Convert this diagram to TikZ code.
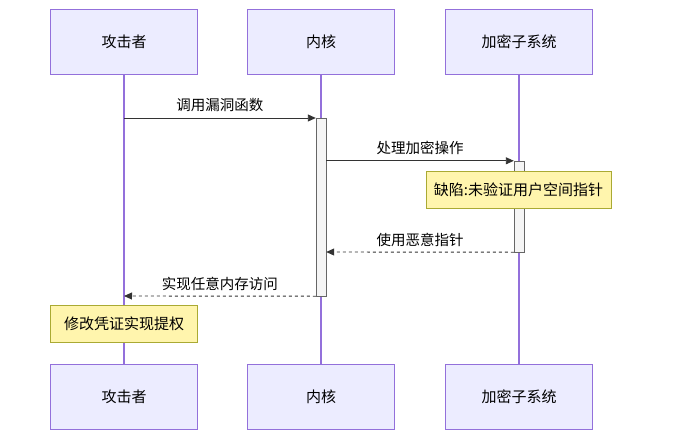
\documentclass[tikz,border=0pt]{standalone}
\usepackage{fontspec}
\setmainfont{Noto Sans CJK SC}
\usetikzlibrary{arrows.meta, positioning}
\definecolor{actorfill}{HTML}{ECECFF}
\definecolor{actorline}{HTML}{9370DB}
\definecolor{notefill}{HTML}{FFF5AD}
\definecolor{noteline}{HTML}{AAAA33}
\tikzset{
  actor/.style = {rectangle, minimum width=147pt, minimum height=65pt, fill=actorfill, draw=actorline, font=\fontsize{15}{18}\selectfont},
  note/.style = {rectangle, minimum height=37pt, inner xsep=8pt, fill=notefill, draw=noteline, font=\fontsize{15}{18}\selectfont},
  activ/.style = {rectangle, minimum width=10pt, fill=black!4, draw=black!60},
  life/.style = {draw=actorline, line width=1.2pt},
  msg/.style = {draw=black!80, line width=0.9pt, -{Triangle[length=8pt,width=7pt]}},
  reply/.style = {msg, dashed},
  lbl/.style = {font=\fontsize{14.5}{17}\selectfont}
}
\begin{document}
\begin{tikzpicture}[x=1pt, y=-1pt]
    \useasboundingbox (0,0) rectangle (675,445);

    \node (att) [actor] at (124,42) {攻击者};
    \node (ker) [actor] at (321,42) {内核};
    \node (cry) [actor] at (519,42) {加密子系统};
    \node (attb) [actor] at (124,397) {攻击者};
    \node (kerb) [actor] at (321,397) {内核};
    \node (cryb) [actor] at (519,397) {加密子系统};

    \draw [life] (att) -- (attb);
    \draw [life] (ker) -- (kerb);
    \draw [life] (cry) -- (cryb);

    \node (actk) [activ, minimum height=178pt] at (321,207) {};
    \node (actc) [activ, minimum height=91pt] at (519,206.5) {};

    \coordinate (a1) at (124,118);
    \coordinate (a4) at (124,296);
    \coordinate (c2) at (519,252);

    \draw [msg] (a1) -- node[lbl, above=2pt] {调用漏洞函数} (actk.west |- a1);
    \draw [msg] (actk.east |- actc.north) -- node[lbl, above=2pt] {处理加密操作} (actc.north west);
    \draw [reply] (actc.south west) -- node[lbl, above=2pt] {使用恶意指针} (actk.east |- c2);
    \draw [reply] (actk.south west) -- node[lbl, above=2pt] {实现任意内存访问} (a4);

    \node (flaw) [note] at (518.5,190) {缺陷:未验证用户空间指针};
    \node (priv) [note, minimum width=147pt] at (124,324) {修改凭证实现提权};

\end{tikzpicture}
\end{document}
